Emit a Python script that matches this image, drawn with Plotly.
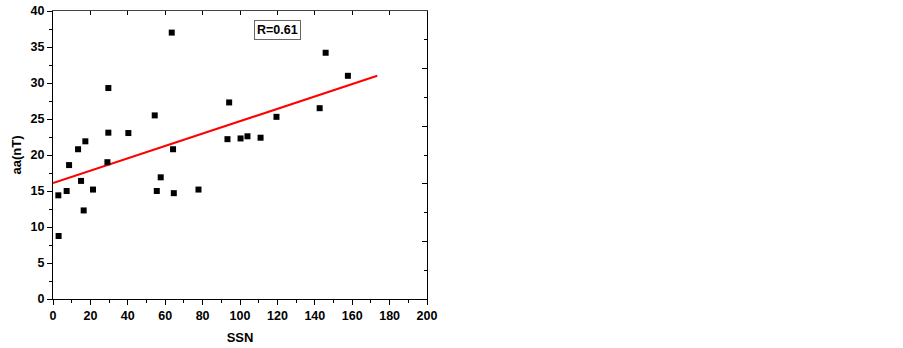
import plotly.graph_objects as go

ssn = [2.85, 3.0, 7.3, 8.6, 13.4, 15.0, 16.4, 17.3, 21.4, 29.1, 29.6, 29.6, 40.3,
       54.4, 55.5, 57.6, 63.5, 64.2, 64.6, 77.8, 93.3, 94.2, 100.3, 104.0, 111.0,
       119.5, 142.6, 145.8, 157.7]
aa = [14.4, 8.75, 15.0, 18.6, 20.8, 16.4, 12.3, 21.9, 15.2, 19.0, 29.3, 23.1, 23.05,
      25.5, 15.0, 16.9, 37.0, 20.8, 14.7, 15.2, 22.2, 27.3, 22.3, 22.6, 22.4,
      25.3, 26.5, 34.2, 31.0]
fit_x = [0, 173.4]
fit_y = [16.1, 31.0]
r_label = "R=0.61"

font = dict(family="Liberation Sans, Arial, sans-serif", color="black", weight="bold")

fig = go.Figure()
fig.add_trace(go.Scatter(x=fit_x, y=fit_y, mode="lines",
                         line=dict(color="#ff0000", width=2), showlegend=False))
fig.add_trace(go.Scatter(x=ssn, y=aa, mode="markers",
                         marker=dict(symbol="square", size=6, color="black"),
                         showlegend=False))
# invisible trace for mirror axes
fig.add_trace(go.Scatter(x=[None], y=[None], xaxis="x2", yaxis="y2", showlegend=False))

fig.add_annotation(x=119.8, y=37.3, text=r_label, showarrow=False,
                   font=dict(size=12.5, **font), bordercolor="#666", borderwidth=1,
                   borderpad=2, bgcolor="white")

fig.update_layout(
    width=903, height=348,
    margin=dict(l=53, r=476, t=11, b=49),
    plot_bgcolor="white", paper_bgcolor="white",
    xaxis=dict(range=[0, 200], dtick=20, tick0=0, showgrid=False, zeroline=False,
               automargin=False,
               showline=True, linecolor="black", linewidth=1,
               ticks="outside", ticklen=5, tickcolor="black",
               minor=dict(dtick=10, ticks="outside", ticklen=3, tickcolor="black"),
               tickfont=dict(size=12.5, **font),
               title=dict(text="SSN", font=dict(size=13, **font), standoff=10)),
    yaxis=dict(range=[0, 40], dtick=5, tick0=0, showgrid=False, zeroline=False,
               automargin=False,
               showline=True, linecolor="black", linewidth=1,
               ticks="outside", ticklen=5, tickcolor="black",
               minor=dict(dtick=2.5, ticks="outside", ticklen=3, tickcolor="black"),
               tickfont=dict(size=12.5, **font),
               title=dict(text="aa(nT)", font=dict(size=13, **font), standoff=6)),
    xaxis2=dict(range=[0, 200], dtick=20, tick0=0, overlaying="x", side="top",
                anchor="y", showgrid=False, zeroline=False, showline=True,
                automargin=False,
                linecolor="#444", linewidth=1, ticks="inside", ticklen=4,
                tickcolor="black", showticklabels=False),
    yaxis2=dict(range=[0, 40], dtick=8, tick0=0, overlaying="y", side="right",
                anchor="x", showgrid=False, zeroline=False, showline=True,
                automargin=False,
                linecolor="black", linewidth=1, ticks="inside", ticklen=5,
                tickcolor="black", showticklabels=False,
                minor=dict(dtick=4, ticks="inside", ticklen=3, tickcolor="black")),
)

fig.write_html("out.html", config={"displayModeBar": False},
               post_script="document.body.style.margin='0';document.body.style.overflow='hidden';")
